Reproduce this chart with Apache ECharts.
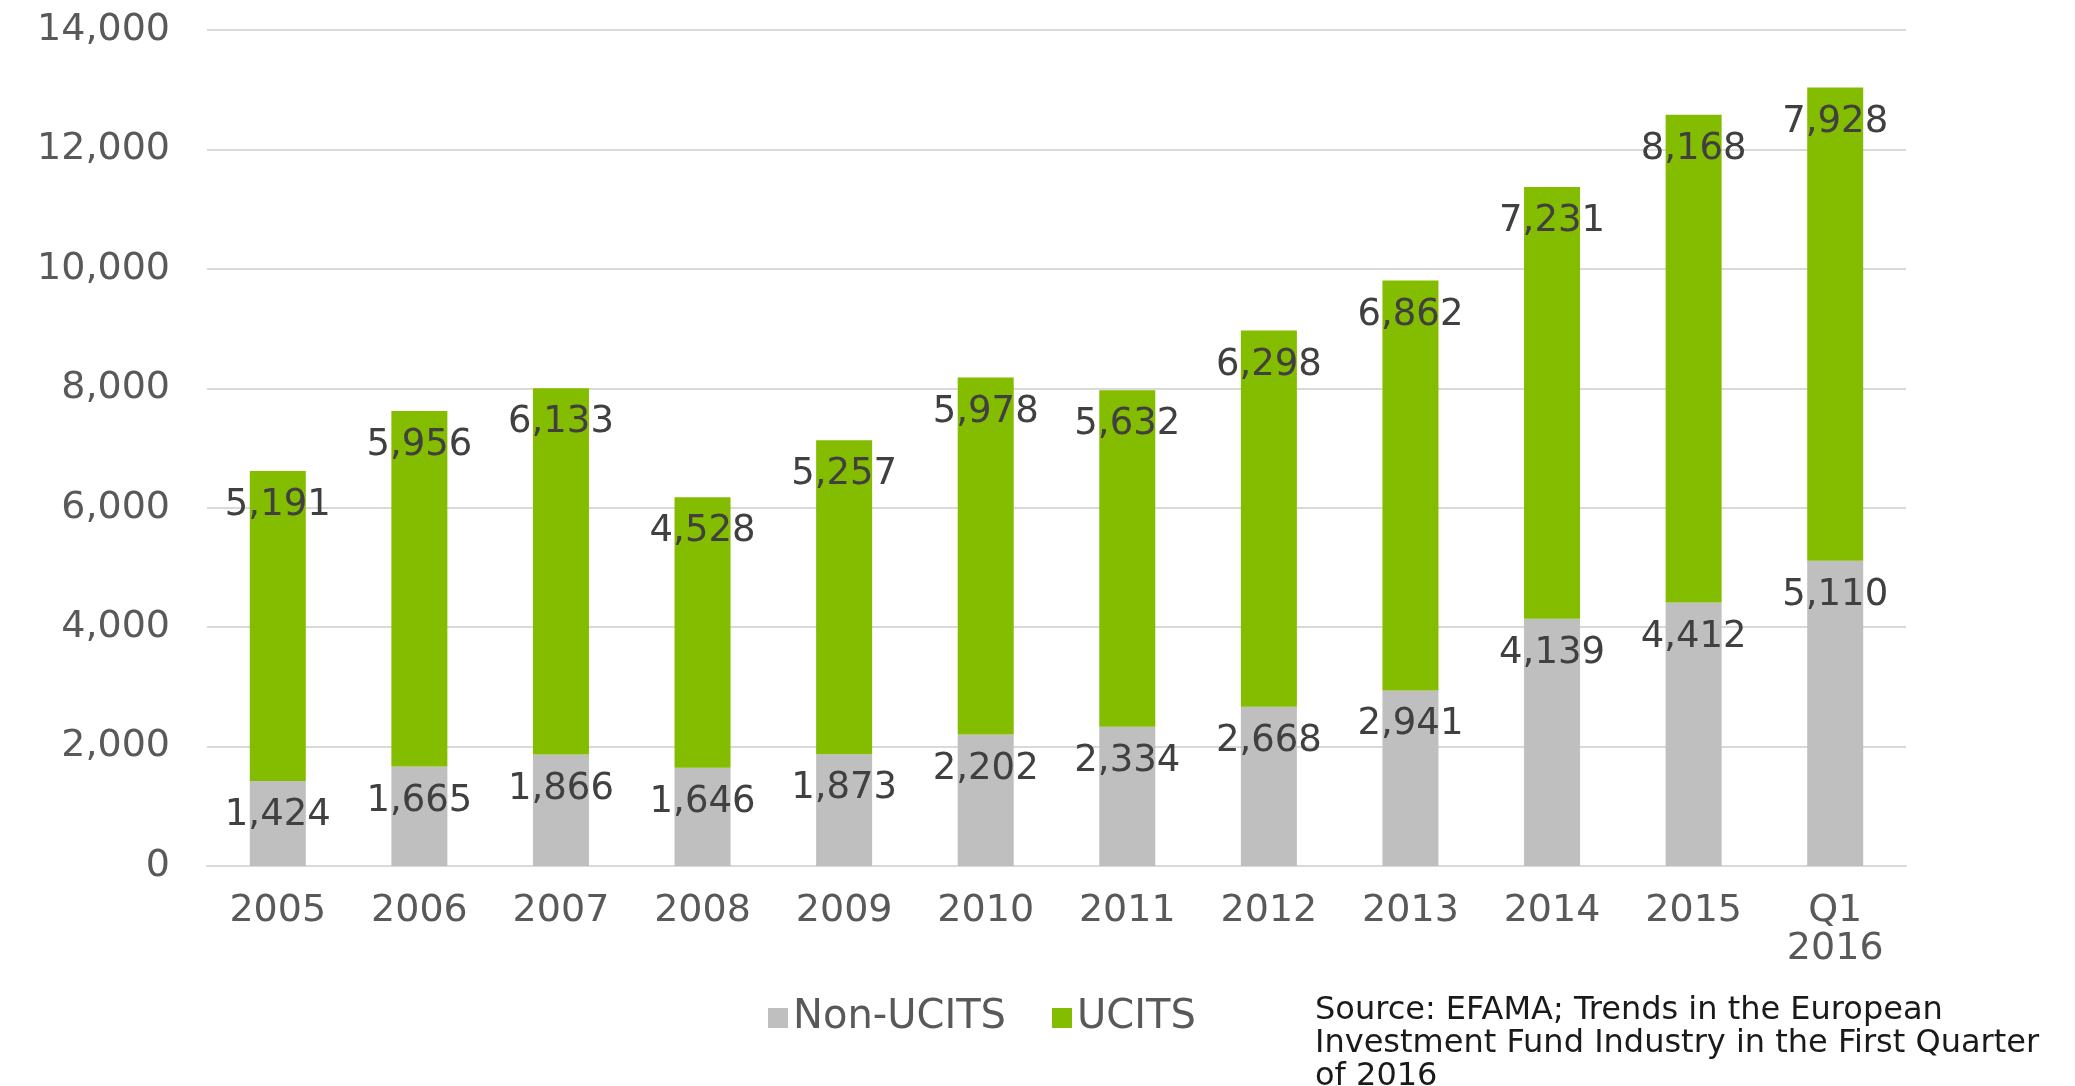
<!DOCTYPE html>
<html>
<head>
    <meta charset="utf-8">
    <title>UCITS / Non-UCITS</title>
    <script src="https://cdn.jsdelivr.net/npm/echarts@6/dist/echarts.min.js"></script>
    <style>
        html, body { margin: 0; padding: 0; background: #fff; }
    </style>
</head>
<body>
<div id="main" style="width:2075px;height:1086px;"></div>
<script type="text/javascript">

var years = ['2005', '2006', '2007', '2008', '2009', '2010', '2011', '2012', '2013', '2014', '2015', 'Q1\n2016'];
var nonUcits = [1424, 1665, 1866, 1646, 1873, 2202, 2334, 2668, 2941, 4139, 4412, 5110];
var ucits = [5191, 5956, 6133, 4528, 5257, 5978, 5632, 6298, 6862, 7231, 8168, 7928];
var sourceNote = 'Source: EFAMA; Trends in the European\nInvestment Fund Industry in the First Quarter\nof 2016';

var colors = ['#bfbfbf', '#84bc00'];

function fmt(v) {
    return String(v).replace(/\B(?=(\d{3})+(?!\d))/g, ',');
}

var myChart = echarts.init(document.getElementById('main'));

var labelStyle = {
    show: true,
    position: 'insideTop',
    distance: 16,
    color: '#404040',
    fontFamily: 'DejaVu Sans',
    fontSize: 37,
    formatter: function (p) { return fmt(p.value); }
};

var option = {
    animation: false,
    color: colors,
    title: {
        text: sourceNote,
        left: 1310,
        top: 989,
        textStyle: {
            fontFamily: 'DejaVu Sans',
            fontWeight: 'normal',
            fontSize: 32,
            lineHeight: 33,
            color: '#1a1a1a'
        }
    },
    legend: {
        data: ['Non-UCITS', 'UCITS'],
        left: 763,
        top: 993,
        itemWidth: 20,
        itemHeight: 20,
        itemGap: 46,
        icon: 'rect',
        textStyle: {
            fontFamily: 'DejaVu Sans',
            fontSize: 40,
            color: '#595959'
        }
    },
    grid: {
        left: 207,
        right: 169,
        top: 30,
        bottom: 220,
        containLabel: false
    },
    xAxis: {
        type: 'category',
        data: years,
        axisTick: { show: false },
        axisLine: { lineStyle: { color: '#d9d9d9', width: 2 } },
        axisLabel: {
            interval: 0,
            margin: 26,
            color: '#595959',
            fontFamily: 'DejaVu Sans',
            fontSize: 38,
            lineHeight: 38
        }
    },
    yAxis: {
        type: 'value',
        min: 0,
        max: 14000,
        interval: 2000,
        axisLine: { show: false },
        axisTick: { show: false },
        splitLine: { lineStyle: { color: '#d9d9d9', width: 2 } },
        axisLabel: {
            margin: 37,
            color: '#595959',
            fontFamily: 'DejaVu Sans',
            fontSize: 38,
            formatter: function (v) { return fmt(v); }
        }
    },
    series: [
        {
            name: 'Non-UCITS',
            type: 'bar',
            stack: 'total',
            barWidth: 56,
            data: nonUcits,
            label: labelStyle
        },
        {
            name: 'UCITS',
            type: 'bar',
            stack: 'total',
            barWidth: 56,
            data: ucits,
            label: labelStyle
        }
    ]
};

myChart.setOption(option);
</script>
</body>
</html>
